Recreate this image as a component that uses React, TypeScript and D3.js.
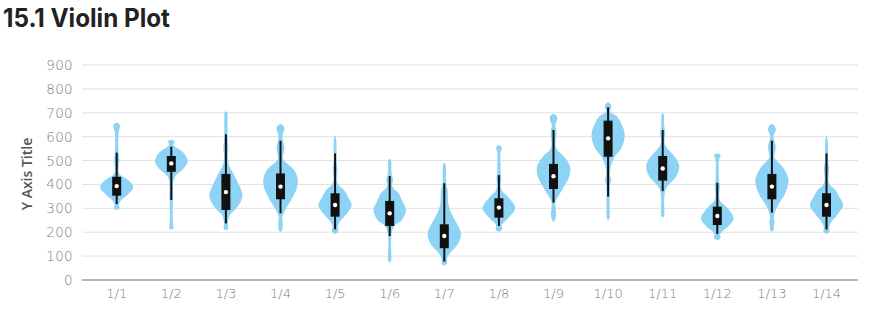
import React from "react";
import * as d3 from "d3";

const categories = ["1/1","1/2","1/3","1/4","1/5","1/6","1/7","1/8","1/9","1/10","1/11","1/12","1/13","1/14"];
const yTicks = [0,100,200,300,400,500,600,700,800,900];

const whiskerLow = [318,335,237,279,212,184,77,226,324,349,372,193,282,212];
const q1 = [353,453,293,338,265,226,133,261,381,516,416,230,338,265];
const median = [393,488,368,391,314,279,184,303,434,593,467,268,391,314];
const q3 = [432,519,444,446,363,331,233,342,486,667,519,307,444,363];
const whiskerHigh = [533,558,610,583,530,435,405,439,628,723,628,407,583,530];

// density profiles: [value, relative density]
const density: [number, number][][] = [
  [[293,0],[298,2],[304,2.3],[312,1.7],[320,2],[335,4],[356,10],[388,16],[410,13],[426,8.3],[440,3],[453,1.3],[480,1.5],[505,2],[530,1.3],[560,1],[600,1],[620,1.3],[635,2.3],[645,2.7],[653,2],[659,0]],
  [[212,0],[216,1.5],[225,1.3],[265,0.8],[320,1],[349,1.3],[377,1],[400,1.2],[419,1.7],[439,4],[467,11.7],[495,15.7],[523,13.3],[544,8.3],[560,2.5],[565,1.5],[574,2.2],[579,2.7],[584,1.8],[587,0]],
  [[210,0],[214,1.5],[223,1.7],[237,1.3],[251,1.7],[272,3.3],[293,8.3],[321,13.3],[356,16],[405,11.7],[446,6.7],[480,2.5],[509,1.3],[535,1.5],[558,2],[580,1.3],[620,1],[680,1],[700,0.8],[706,0]],
  [[202,0],[207,1],[237,1.7],[255,1.2],[265,1.3],[293,4],[335,10],[377,15],[419,16.7],[453,14],[474,10],[495,4],[505,2],[520,2],[540,3],[558,3.3],[580,2],[600,1.3],[615,2],[631,3.3],[645,2.5],[653,0]],
  [[193,0],[200,2],[209,2.7],[218,2],[225,2],[244,4],[272,10],[314,16],[350,12],[377,8.3],[400,2.5],[419,1],[440,1.3],[467,1.7],[490,1],[530,0.8],[580,0.7],[604,0]],
  [[74,0],[80,0.8],[150,0.7],[184,1],[195,1.3],[215,2.5],[230,5],[251,11.7],[293,15.7],[330,12],[363,8.3],[385,3],[398,1.7],[412,2.5],[425,2.7],[440,1.5],[470,1],[500,0.8],[506,0]],
  [[60,0],[67,1.8],[77,2.3],[90,2],[112,5],[153,13.3],[195,16],[251,10],[293,5],[321,3.3],[350,3],[377,2.7],[400,1.3],[440,1],[480,0.8],[491,0]],
  [[202,0],[208,2],[216,2.7],[228,2],[237,3.3],[265,10],[300,15.7],[349,8.3],[370,3],[391,1.3],[410,1.5],[426,2],[445,1.3],[490,1],[535,1],[545,1.8],[551,2.3],[560,1.5],[565,0]],
  [[244,0],[252,1],[265,1.7],[279,2],[295,1.5],[321,1.3],[335,2],[349,4],[391,10],[432,15],[474,16],[516,10],[545,3],[565,1.3],[585,1.7],[614,2.3],[635,1.7],[649,1],[665,2.5],[677,3.3],[688,2.5],[695,0]],
  [[251,0],[260,0.8],[300,1],[380,1],[405,1.5],[419,2.7],[432,1.5],[455,1.5],[474,2],[495,3.5],[516,6],[558,13.3],[607,16],[642,14],[684,8.3],[700,2.5],[707,1.3],[715,2],[727,2.7],[735,2.2],[744,0]],
  [[262,0],[268,0.8],[330,0.8],[355,1.2],[370,1.7],[385,3],[398,5],[432,12.7],[474,16],[500,14],[523,10],[550,4],[572,1.3],[595,1.5],[614,2],[630,1.5],[650,0.8],[690,0.7],[698,0]],
  [[167,0],[172,2],[179,2.7],[188,2],[195,2.7],[210,6],[223,10],[258,15.7],[307,8.3],[330,2.5],[349,1.3],[370,1.5],[391,2],[410,1.3],[440,1],[500,1],[512,1.8],[519,2.7],[526,2],[530,0]],
  [[202,0],[210,1],[230,1.5],[244,2],[260,1.3],[279,2],[300,4],[321,6.7],[363,12.7],[419,16],[474,10],[500,4],[516,1.7],[535,2.5],[558,3.3],[580,2],[600,1],[615,2],[628,3.3],[643,2.5],[653,0]],
  [[193,0],[200,2],[206,2.7],[215,2],[237,3.3],[272,10],[314,16],[350,12],[377,8.3],[400,2.5],[419,1.3],[440,1.5],[467,2],[490,1.2],[530,0.8],[580,0.7],[604,0]],
];

const W = 875, H = 323;
const plotLeft = 82, plotRight = 858;
const yTop = 65, yBottom = 280;

export default function App() {
  const x = d3.scalePoint<string>().domain(categories).range([116.7, 826.5]);
  const y = d3.scaleLinear().domain([0, 900]).range([yBottom, yTop]);
  const w = d3.scaleLinear().domain([0, 16]).range([0, 16]);
  const half = (d: number) => (d > 0 ? w(d) + 0.6 : 0.3);
  const boxW = 9;
  const fill = "#8cd3f5";

  return (
    <svg width={W} height={H} style={{ position: "absolute", left: 0, top: 0 }}>
      <rect width={W} height={H} fill="#fff" />
      <text x={3} y={27} fontFamily="Inter, 'Liberation Sans', sans-serif" fontWeight={700}
        fontSize={25} fill="#222" textLength={167} lengthAdjust="spacingAndGlyphs">15.1 Violin Plot</text>
      {yTicks.map((t) => (
        <g key={t}>
          {t > 0 && <line x1={plotLeft} x2={plotRight} y1={y(t)} y2={y(t)} stroke="#e2e2e2" strokeWidth={1} />}
          <text x={73} y={y(t) + 5} textAnchor="end" fontFamily="'DejaVu Sans', sans-serif"
            fontWeight={300} fontSize={13.5} fill="#7c7c7c" letterSpacing={0.3}>{t}</text>
        </g>
      ))}
      <line x1={plotLeft} x2={plotRight} y1={yBottom} y2={yBottom} stroke="#9a9a9a" strokeWidth={1.5} />
      <text transform={`translate(32,174) rotate(-90)`} textAnchor="middle" fontFamily="'Open Sans', sans-serif"
        fontWeight={600} fontSize={14} fill="#555">Y Axis Title</text>
      {categories.map((c, i) => {
        const cx = x(c)!;
        const area = d3.area<[number, number]>()
          .y((d) => y(d[0]))
          .x0((d) => cx - half(d[1]))
          .x1((d) => cx + half(d[1]))
          .curve(d3.curveCatmullRom.alpha(0.5));
        return (
          <g key={c}>
            <path d={area(density[i]) || ""} fill={fill} />
            <line x1={cx} x2={cx} y1={y(whiskerLow[i])} y2={y(whiskerHigh[i])} stroke="#111" strokeWidth={2} />
            <rect x={cx - boxW / 2} width={boxW} y={y(q3[i])} height={y(q1[i]) - y(q3[i])} fill="#111" />
            <circle cx={cx} cy={y(median[i])} r={2.2} fill="#fff" />
            <text x={cx} y={298} textAnchor="middle" fontFamily="'DejaVu Sans', sans-serif"
              fontWeight={300} fontSize={13} fill="#7c7c7c">{c}</text>
          </g>
        );
      })}
    </svg>
  );
}
